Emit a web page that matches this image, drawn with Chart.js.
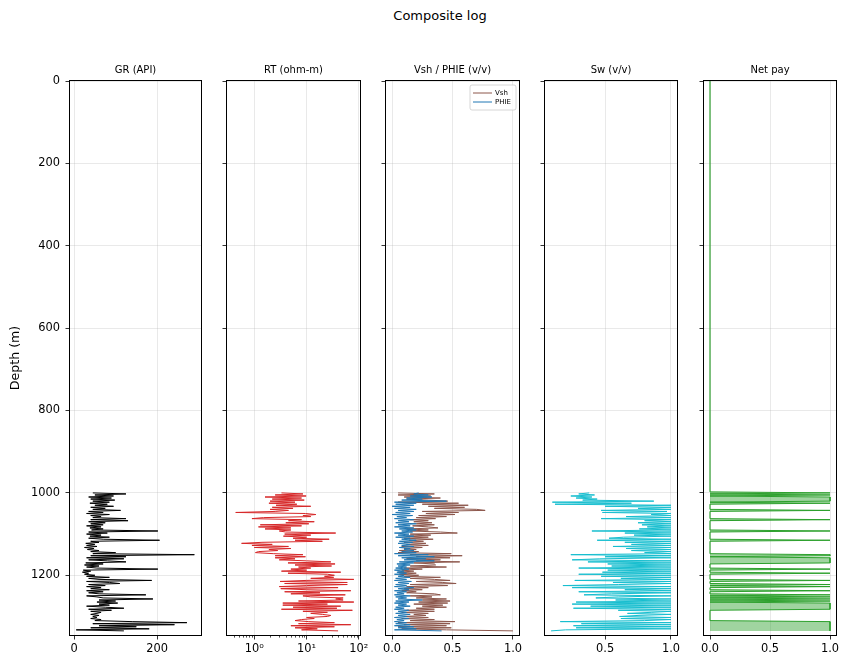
<!DOCTYPE html>
<html><head><meta charset="utf-8">
<script src="https://cdn.jsdelivr.net/npm/chart.js@4.4.1/dist/chart.umd.min.js"></script>
<style>
html,body{margin:0;padding:0;background:#fff;}
#wrap{position:relative;width:848px;height:668px;overflow:hidden;background:#fff;}
canvas{position:absolute;top:0;}
#suptitle{position:absolute;top:8px;left:340px;width:200px;text-align:center;font:13px 'DejaVu Sans',sans-serif;line-height:15px;color:#000;}
</style></head><body>
<div id="wrap">
<div id="suptitle">Composite log</div>
<canvas id="c0" width="220" height="668" style="left:0px"></canvas>
<canvas id="c1" width="180" height="668" style="left:200px"></canvas>
<canvas id="c2" width="180" height="668" style="left:359px"></canvas>
<canvas id="c3" width="180" height="668" style="left:518px"></canvas>
<canvas id="c4" width="171" height="668" style="left:677px"></canvas>
</div>
<script>
// ---- data ----
const depthTicks = [0,200,400,600,800,1000,1200];
const depthLabels = ['0','200','400','600','800','1000','1200'];
const depthMax = 1345;

const depth = [1000,1002.5,1005,1007.5,1010,1012.5,1015,1017.5,1020,1022.5,1025,1027.5,1030,1032.5,1035,1037.5,1040,1042.5,1045,1047.5,1050,1052.5,1055,1057.5,1060,1062.5,1065,1067.5,1070,1072.5,1075,1077.5,1080,1082.5,1085,1087.5,1090,1092.5,1095,1097.5,1100,1102.5,1105,1107.5,1110,1112.5,1115,1117.5,1120,1122.5,1125,1127.5,1130,1132.5,1135,1137.5,1140,1142.5,1145,1147.5,1150,1152.5,1155,1157.5,1160,1162.5,1165,1167.5,1170,1172.5,1175,1177.5,1180,1182.5,1185,1187.5,1190,1192.5,1195,1197.5,1200,1202.5,1205,1207.5,1210,1212.5,1215,1217.5,1220,1222.5,1225,1227.5,1230,1232.5,1235,1237.5,1240,1242.5,1245,1247.5,1250,1252.5,1255,1257.5,1260,1262.5,1265,1267.5,1270,1272.5,1275,1277.5,1280,1282.5,1285,1287.5,1290,1292.5,1295,1297.5,1300,1302.5,1305,1307.5,1310,1312.5,1315,1317.5,1320,1322.5,1325,1327.5,1330,1332.5,1335];

const gr = [45,125,50,95,35,90,40,98,45,85,
 38,80,50,95,40,75,45,112,35,70,
 30,85,40,65,45,125,40,130,35,75,
 40,70,30,65,38,70,42,202,35,80,
 30,65,38,85,35,70,206,40,60,28,
 50,30,55,25,48,32,60,40,100,45,
 290,40,125,30,120,35,80,125,28,70,
 25,60,30,55,202,22,40,20,35,25,
 50,30,85,35,60,187,30,85,110,35,
 75,30,65,40,85,30,70,35,60,173,
 30,55,70,190,60,100,55,105,60,85,
 30,75,120,35,90,40,65,55,40,60,
 45,55,40,65,50,140,272,45,242,60,
 150,40,181,5,120];

const rt = [3.3,8.5,2.5,9.8,1.6,8.0,2.2,9.0,2.0,6.0,
 1.9,6.5,2.6,12,2.2,5.5,2.0,4.5,2.5,0.44,
 9.5,15,8.5,12,1.5,0.9,8.0,4.5,14,4.0,
 11,1.3,8.0,1.2,5.0,1.6,5.0,3.0,4.0,36,
 3.8,12,3.6,10,5.5,27,6.0,20,1.4,0.57,
 2.2,0.9,4.5,1.0,5.0,1.9,2.8,1.2,1.05,2.3,
 8.5,2.5,9.5,2.5,6.0,3.0,10,29,4.4,35,
 6.0,30,7.0,12,5.0,10,3.3,45,4.4,25,
 34,22,33,12,80,9.8,3.1,60,3.8,60,
 10,3.0,40,3.2,9.8,70,3.8,18,5.0,55,
 8.5,12,50,36,50,7.0,80,3.5,25,3.5,
 45,5.5,38,3.3,75,8.5,25,12,20,29,
 25,10,14,8.0,6.0,11,34,7.0,70,5.0,
 34,6.0,16,8.0,40];

const vsh = [0.05,0.35,0.05,0.32,0.10,0.40,0.12,0.30,0.46,0.05,
 0.55,0.25,0.63,0.30,0.60,0.35,0.70,0.77,0.25,0.55,
 0.28,0.52,0.22,0.45,0.20,0.36,0.15,0.30,0.18,0.33,
 0.20,0.35,0.17,0.30,0.38,0.12,0.30,0.15,0.40,0.54,
 0.15,0.32,0.12,0.30,0.10,0.34,0.14,0.26,0.10,0.28,
 0.12,0.30,0.08,0.25,0.10,0.20,0.06,0.22,0.05,0.49,
 0.15,0.58,0.20,0.48,0.12,0.40,0.20,0.56,0.18,0.35,
 0.36,0.15,0.45,0.10,0.25,0.08,0.18,0.05,0.20,0.06,
 0.22,0.10,0.40,0.15,0.35,0.48,0.20,0.42,0.53,0.15,
 0.46,0.12,0.30,0.10,0.25,0.08,0.20,0.12,0.35,0.40,
 0.15,0.33,0.20,0.45,0.25,0.48,0.22,0.46,0.18,0.42,
 0.25,0.45,0.20,0.35,0.12,0.35,0.08,0.30,0.18,0.28,
 0.10,0.30,0.08,0.35,0.15,0.52,0.05,0.48,0.10,0.45,
 0.05,0.49,0.08,0.45,1.0];

const phie = [0.22,0.18,0.30,0.15,0.33,0.12,0.25,0.08,0.45,0.02,
 0.20,0.03,0.18,0.00,0.15,0.02,0.20,0.05,0.18,0.03,
 0.15,0.00,0.17,0.04,0.12,0.02,0.18,0.05,0.14,0.03,
 0.20,0.05,0.15,0.02,0.18,0.06,0.20,0.08,0.17,0.02,
 0.14,0.05,0.18,0.03,0.15,0.08,0.20,0.06,0.17,0.05,
 0.15,0.08,0.18,0.06,0.15,0.10,0.18,0.08,0.20,0.02,
 0.30,0.05,0.35,0.08,0.28,0.10,0.35,0.06,0.18,0.04,
 0.15,0.05,0.12,0.03,0.14,0.02,0.10,0.04,0.12,0.02,
 0.10,0.05,0.15,0.03,0.12,0.02,0.16,0.05,0.14,0.03,
 0.12,0.02,0.18,0.05,0.14,0.02,0.12,0.04,0.10,0.02,
 0.15,0.03,0.12,0.05,0.25,0.03,0.14,0.02,0.12,0.05,
 0.15,0.03,0.10,0.02,0.14,0.05,0.12,0.03,0.15,0.05,
 0.12,0.02,0.14,0.04,0.10,0.02,0.12,0.03,0.15,0.02,
 0.18,0.05,0.20,0.02,0.41];

const sw = [0.38,0.30,0.42,0.24,0.40,0.28,0.44,0.33,0.87,0.10,
 0.70,0.12,1.0,0.50,1.0,0.75,1.0,0.47,0.97,0.48,
 1.0,0.85,1.0,0.66,1.0,0.47,1.0,0.80,1.0,0.75,
 1.0,0.78,1.0,0.82,1.0,0.76,1.0,0.40,1.0,0.65,
 1.0,0.72,1.0,0.64,0.53,1.0,0.44,1.0,0.65,1.0,
 0.70,1.0,0.56,1.0,0.66,1.0,0.70,1.0,0.80,1.0,
 0.24,1.0,0.50,1.0,0.46,0.25,1.0,0.37,1.0,0.52,
 1.0,0.55,1.0,0.30,1.0,0.52,1.0,0.48,1.0,0.30,
 1.0,0.47,1.0,0.62,1.0,0.27,1.0,0.56,1.0,0.60,
 0.18,1.0,0.25,1.0,0.65,1.0,0.30,1.0,0.55,0.34,
 1.0,0.60,0.43,1.0,0.58,1.0,0.28,1.0,0.25,1.0,
 0.39,1.0,0.26,1.0,0.60,1.0,0.85,0.67,1.0,0.75,
 0.61,1.0,0.62,1.0,0.80,0.16,1.0,0.32,1.0,0.26,
 1.0,0.28,1.0,0.20,0.09];

const netPay = [1,0,1,0,1,1,1,1,1,0,
 1,0,0,0,0,0,0,1,0,0,
 0,0,0,0,0,0,1,0,0,0,
 0,0,0,0,0,0,0,1,0,0,
 0,0,0,0,0,0,1,0,0,0,
 0,0,0,0,0,0,0,0,0,0,
 1,1,0,1,1,1,1,1,1,0,
 0,0,0,0,1,0,0,0,1,0,
 0,0,0,0,0,1,0,0,0,1,
 0,1,0,0,0,1,0,0,0,1,
 0,1,0,1,0,1,0,1,1,1,
 1,1,1,1,0,0,0,0,0,0,
 0,0,0,0,0,1,1,1,1,1,
 1,1,1,1,1];
const netTopDepth = [0, 997.5];
const netTopValue = [0, 0];

const trackTitles = ['GR (API)','RT (ohm-m)','Vsh / PHIE (v/v)','Sw (v/v)','Net pay'];
const grTicks = [0,200];            const grLabels = ['0','200'];
const rtTicks = [1,10,100];         const rtLabels = ['10\u2070','10\u00B9','10\u00B2'];
const rtMinorTicks = [0.4,0.5,0.6,0.7,0.8,0.9,2,3,4,5,6,7,8,9,20,30,40,50,60,70,80,90];
const fracTicks = [0,0.5,1];        const fracLabels = ['0.0','0.5','1.0'];
const swTicks = [0.5,1];            const swLabels = ['0.5','1.0'];

// ---- chart setup ----
const FONT = "'DejaVu Sans', sans-serif";
Chart.defaults.font.family = FONT;
Chart.defaults.color = '#000';
Chart.defaults.animation = false;
const GRID = 'rgba(176,176,176,0.35)';
const TICK_FONT = 11.4;
const LW = 1;

function pts(xs, ds){ return ds.map((d,i)=>({x: xs[i], y: d})); }

const framePlugin = {
  id: 'frame',
  afterDatasetsDraw(chart){
    const {ctx, chartArea:a} = chart;
    ctx.save(); ctx.strokeStyle = '#000'; ctx.lineWidth = 1;
    ctx.strokeRect(a.left - 0.5, a.top - 0.5, a.right - a.left + 1, a.bottom - a.top + 1);
    ctx.restore();
  },
  afterDraw(chart, args, opts){
    const {ctx, chartArea:a} = chart;
    if (opts && opts.title){
      ctx.save();
      ctx.font = "10px 'DejaVu Sans'"; ctx.fillStyle = '#000';
      ctx.textAlign = 'center'; ctx.textBaseline = 'middle';
      ctx.fillText(opts.title, (a.left + a.right) / 2, a.top - 11);
      ctx.restore();
    }
    if (opts && opts.minor){
      const sc = chart.scales.x;
      ctx.save(); ctx.strokeStyle = '#000'; ctx.lineWidth = 0.7;
      opts.minor.forEach(v => {
        const px = Math.round(sc.getPixelForValue(v)) + 0.5;
        ctx.beginPath(); ctx.moveTo(px, a.bottom); ctx.lineTo(px, a.bottom + 2.6); ctx.stroke();
      });
      ctx.restore();
    }
    if (opts && opts.legend){
      const ds = chart.data.datasets;
      const w = 46, h = 25, x0 = a.right - w - 3, y0 = a.top + 4;
      ctx.save();
      ctx.fillStyle = 'rgba(255,255,255,0.8)'; ctx.strokeStyle = '#cccccc'; ctx.lineWidth = 0.8;
      ctx.beginPath();
      if (ctx.roundRect) ctx.roundRect(x0, y0, w, h, 2); else ctx.rect(x0, y0, w, h);
      ctx.fill(); ctx.stroke();
      ctx.font = "7px 'DejaVu Sans'"; ctx.textBaseline = 'middle'; ctx.textAlign = 'left';
      ds.forEach((d, i) => {
        const yy = y0 + 8 + i * 9;
        ctx.strokeStyle = d.borderColor; ctx.lineWidth = 1;
        ctx.beginPath(); ctx.moveTo(x0 + 3, yy); ctx.lineTo(x0 + 22, yy); ctx.stroke();
        ctx.fillStyle = '#000';
        ctx.fillText(d.label, x0 + 25, yy);
      });
      ctx.restore();
    }
  }
};

function makePanel(idx, cfg){
  const labelOf = v => { const k = cfg.xTicks.indexOf(v); return k >= 0 ? cfg.xLabels[k] : ''; };
  new Chart(document.getElementById('c' + idx), {
    type: 'line',
    data: { datasets: cfg.datasets },
    plugins: [framePlugin],
    options: {
      responsive: false,
      indexAxis: 'y',
      animation: false,
      layout: { padding: { left: 0, right: cfg.rightPad, top: 81, bottom: 0 } },
      elements: { point: { radius: 0 }, line: { tension: 0, borderWidth: LW } },
      plugins: {
        legend: { display: false },
        tooltip: { enabled: false },
        title: { display: false },
        frame: { title: trackTitles[idx], minor: cfg.minor || null, legend: !!cfg.legend }
      },
      scales: {
        x: {
          type: cfg.xType, position: 'bottom', min: cfg.xMin, max: cfg.xMax,
          afterBuildTicks: s => { s.ticks = cfg.xTicks.map(v => ({ value: v })); },
          afterFit: s => { s.height = 33; },
          grid: { color: GRID, lineWidth: 0.8, tickLength: 4.5, tickColor: '#000', tickWidth: 0.8, drawTicks: true },
          border: { display: false },
          ticks: { font: { size: TICK_FONT }, color: '#000', padding: 3, maxRotation: 0, minRotation: 0,
                   autoSkip: false, callback: v => labelOf(v) }
        },
        y: {
          type: 'linear', reverse: true, min: 0, max: depthMax,
          afterBuildTicks: s => { s.ticks = depthTicks.map(v => ({ value: v })); },
          afterFit: s => { s.width = cfg.yw; },
          grid: { color: GRID, lineWidth: 0.8, tickLength: 4.5, tickColor: '#000', tickWidth: 0.8, drawTicks: true },
          border: { display: false },
          title: { display: !!cfg.yTitle, text: 'Depth (m)', color: '#000', font: { size: 12.6 }, padding: { top: 8.6, bottom: 0 } },
          ticks: { display: !!cfg.yLabels, font: { size: TICK_FONT }, color: '#000', padding: 5.5, autoSkip: false,
                   callback: v => { const k = depthTicks.indexOf(v); return k >= 0 ? depthLabels[k] : ''; } }
        }
      }
    }
  });
}

makePanel(0, {
  xType: 'linear', xMin: -10, xMax: 306, xTicks: grTicks, xLabels: grLabels,
  yw: 70, rightPad: 19, yLabels: true, yTitle: true,
  datasets: [{ label: 'GR', data: pts(gr, depth), borderColor: '#000000', borderWidth: LW, fill: false }]
});
makePanel(1, {
  xType: 'logarithmic', xMin: 0.34, xMax: 105, xTicks: rtTicks, xLabels: rtLabels, minor: rtMinorTicks,
  yw: 27, rightPad: 20,
  datasets: [{ label: 'RT', data: pts(rt, depth), borderColor: '#d62728', borderWidth: LW, fill: false }]
});
makePanel(2, {
  xType: 'linear', xMin: -0.05, xMax: 1.05, xTicks: fracTicks, xLabels: fracLabels, legend: true,
  yw: 27, rightPad: 20,
  datasets: [
    { label: 'Vsh', data: pts(vsh, depth), borderColor: '#8c564b', borderWidth: LW, fill: false, order: 2 },
    { label: 'PHIE', data: pts(phie, depth), borderColor: '#1f77b4', borderWidth: LW, fill: false, order: 1 }
  ]
});
makePanel(3, {
  xType: 'linear', xMin: 0.044, xMax: 1.046, xTicks: swTicks, xLabels: swLabels,
  yw: 27, rightPad: 21,
  datasets: [{ label: 'Sw', data: pts(sw, depth), borderColor: '#17becf', borderWidth: LW, fill: false }]
});
makePanel(4, {
  xType: 'linear', xMin: -0.05, xMax: 1.05, xTicks: fracTicks, xLabels: fracLabels,
  yw: 27, rightPad: 12,
  datasets: [{ label: 'Net pay', data: pts(netTopValue.concat(netPay), netTopDepth.concat(depth)),
               borderColor: '#2ca02c', backgroundColor: 'rgba(44,160,44,0.45)', borderWidth: LW, fill: 'origin',
               segment: { borderColor: c => (c.p0.parsed.x === 0 && c.p1.parsed.x === 0) ? 'rgba(44,160,44,0.5)' : '#2ca02c' } }]
});
</script>
</body></html>
